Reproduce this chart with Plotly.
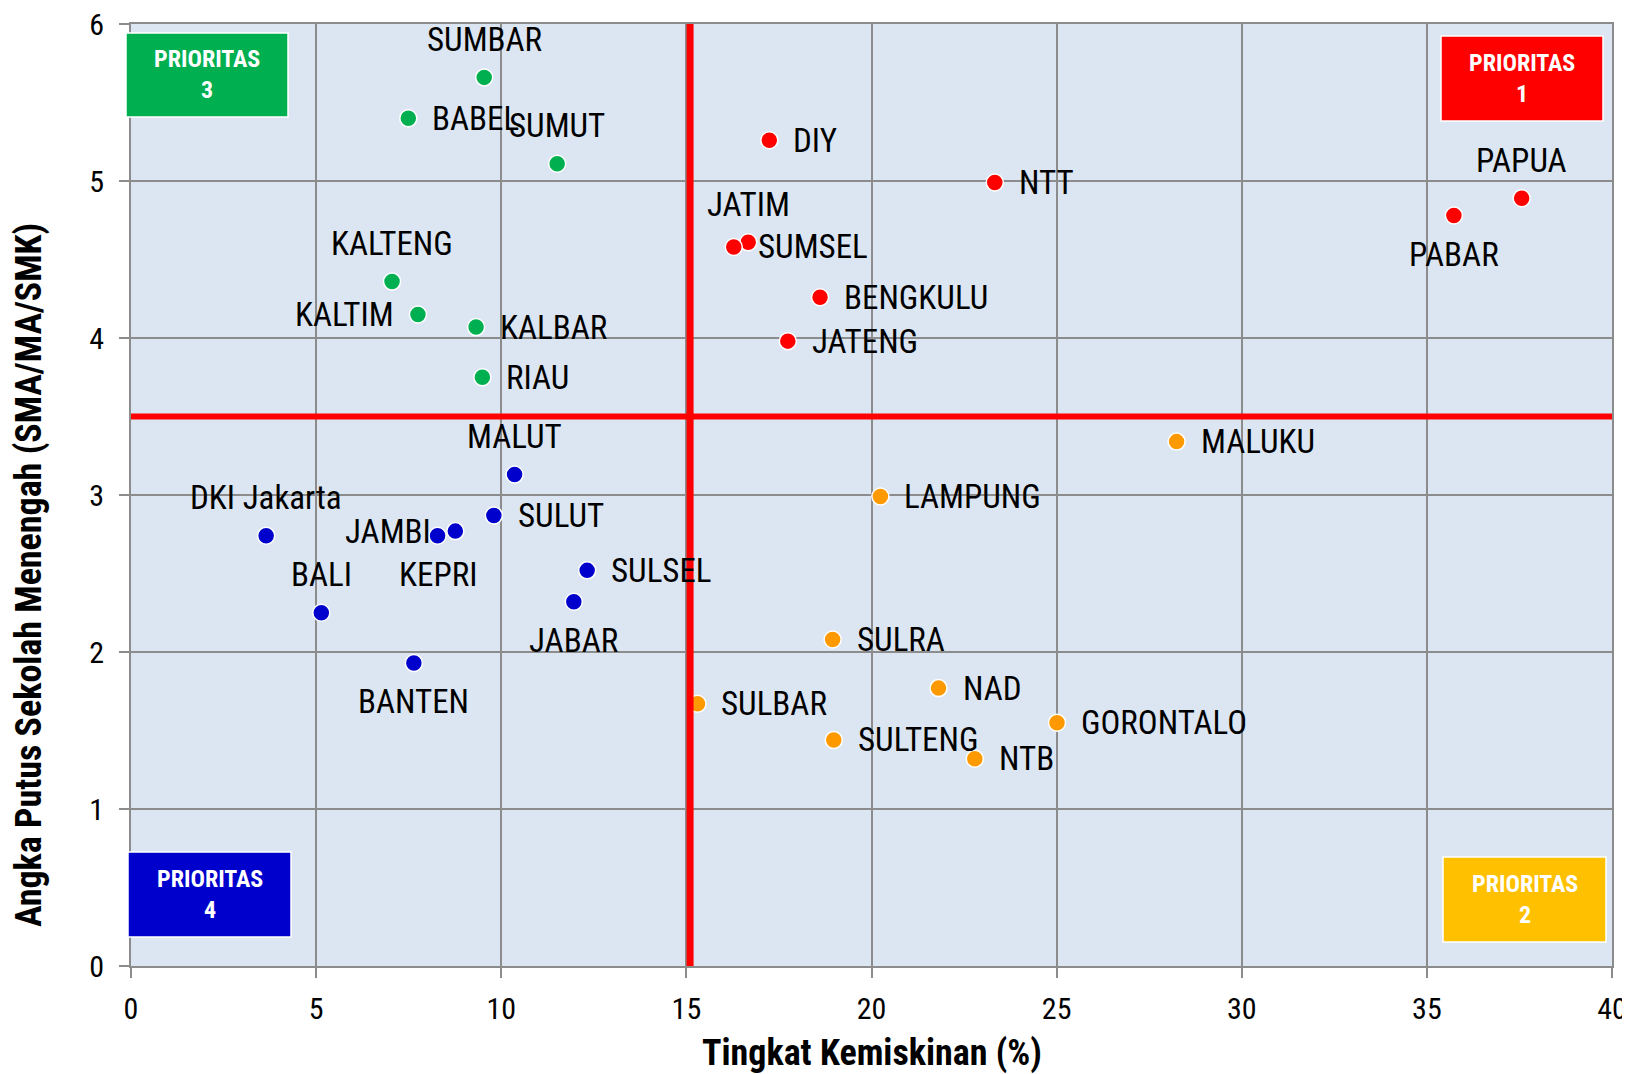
import plotly.graph_objects as go

# ---------------- data ----------------
green_names = ["SUMBAR", "BABEL", "SUMUT", "KALTENG", "KALTIM", "KALBAR", "RIAU"]
green_x = [9.54, 7.49, 11.51, 7.05, 7.75, 9.32, 9.49]
green_y = [5.66, 5.40, 5.11, 4.36, 4.15, 4.07, 3.75]

red_names = ["DIY", "NTT", "JATIM", "SUMSEL", "BENGKULU", "JATENG", "PAPUA", "PABAR"]
red_x = [17.24, 23.33, 16.67, 16.28, 18.61, 17.74, 37.56, 35.73]
red_y = [5.26, 4.99, 4.61, 4.58, 4.26, 3.98, 4.89, 4.78]

orange_names = ["MALUKU", "LAMPUNG", "SULRA", "NAD", "SULBAR", "GORONTALO", "SULTENG", "NTB"]
orange_x = [28.24, 20.24, 18.95, 21.81, 15.30, 25.01, 18.98, 22.79]
orange_y = [3.34, 2.99, 2.08, 1.77, 1.67, 1.55, 1.44, 1.32]

blue_names = ["MALUT", "DKI Jakarta", "JAMBI", "KEPRI", "SULUT", "SULSEL", "JABAR", "BALI", "BANTEN"]
blue_x = [10.36, 3.65, 8.76, 8.28, 9.80, 12.32, 11.96, 5.14, 7.64]
blue_y = [3.13, 2.74, 2.77, 2.74, 2.87, 2.52, 2.32, 2.25, 1.93]

threshold_x = 15.1
threshold_y = 3.5

x_ticks = [0, 5, 10, 15, 20, 25, 30, 35, 40]
y_ticks = [0, 1, 2, 3, 4, 5, 6]

x_title = "Tingkat Kemiskinan (%)"
y_title = "Angka Putus Sekolah Menengah (SMA/MA/SMK)"

# ---------------- styles ----------------
label_pos = {
    "SUMBAR": "t", "BABEL": "r", "SUMUT": "t", "KALTENG": "t", "KALTIM": "l",
    "KALBAR": "r", "RIAU": "r",
    "DIY": "r", "NTT": "r", "JATIM": "t", "SUMSEL": "r", "BENGKULU": "r",
    "JATENG": "r", "PAPUA": "t", "PABAR": "b",
    "MALUKU": "r", "LAMPUNG": "r", "SULRA": "r", "NAD": "r", "SULBAR": "r",
    "GORONTALO": "r", "SULTENG": "r", "NTB": "r",
    "MALUT": "t", "DKI Jakarta": "t", "JAMBI": "l", "KEPRI": "b", "SULUT": "r",
    "SULSEL": "r", "JABAR": "b", "BALI": "t", "BANTEN": "b",
}
FONT = "Liberation Sans Narrow, Arial Narrow, Roboto Condensed, Liberation Sans, Arial, sans-serif"
LABEL_SIZE = 33
TICK_SIZE = 30
GRID = "#8c8c8c"

# the page body adds an 8px margin, so the figure is laid out 8px up/left
OFF = 8
W, H = 1630 - OFF, 1074 - OFF
PL, PT, PW, PH = 131 - OFF, 24 - OFF, 1481, 942

fig = go.Figure()

groups = [
    (green_names, green_x, green_y, "#00B050"),
    (red_names, red_x, red_y, "#FF0000"),
    (orange_names, orange_x, orange_y, "#FF9900"),
    (blue_names, blue_x, blue_y, "#0000CC"),
]

# quadrant divider lines
fig.add_shape(type="line", x0=0, x1=40, y0=threshold_y, y1=threshold_y,
              line=dict(color="#FF0000", width=6), layer="above")
fig.add_shape(type="line", x0=threshold_x, x1=threshold_x, y0=0, y1=6,
              line=dict(color="#FF0000", width=7), layer="above")

annotations = []
for names, xs, ys, col in groups:
    fig.add_trace(go.Scatter(
        x=xs, y=ys, mode="markers", showlegend=False, cliponaxis=False,
        marker=dict(size=17, color=col, line=dict(color="white", width=1.5)),
    ))
    for n, xv, yv in zip(names, xs, ys):
        p = label_pos[n]
        a = dict(x=xv, y=yv, xref="x", yref="y", text=n, showarrow=False,
                 font=dict(family=FONT, size=LABEL_SIZE, color="black"))
        if p == "r":
            a.update(xanchor="left", yanchor="middle", xshift=22)
        elif p == "l":
            a.update(xanchor="right", yanchor="middle", xshift=-22)
        elif p == "t":
            a.update(xanchor="center", yanchor="middle", yshift=38)
        else:
            a.update(xanchor="center", yanchor="middle", yshift=-39)
        annotations.append(a)

# priority boxes (reference pixel boxes converted to paper coordinates)
boxes = [
    ("PRIORITAS<br>3", "#00B050", 126, 33, 288, 117),
    ("PRIORITAS<br>1", "#FF0000", 1441, 36, 1603, 121),
    ("PRIORITAS<br>4", "#0000CC", 128, 852, 291, 937),
    ("PRIORITAS<br>2", "#FFC000", 1443, 857, 1606, 942),
]
for txt, col, x0, y0, x1, y1 in boxes:
    px0 = (x0 - OFF - PL) / PW
    px1 = (x1 - OFF - PL) / PW
    py0 = 1 - (y1 - OFF - PT) / PH
    py1 = 1 - (y0 - OFF - PT) / PH
    fig.add_shape(type="rect", xref="paper", yref="paper", x0=px0, x1=px1, y0=py0, y1=py1,
                  fillcolor=col, line=dict(color="white", width=1.5), layer="above")
    annotations.append(dict(x=(px0 + px1) / 2, y=(py0 + py1) / 2, xref="paper", yref="paper",
                            text="<b>" + txt + "</b>", showarrow=False,
                            font=dict(family=FONT, size=24, color="white"),
                            xanchor="center", yanchor="middle"))

# axis titles
annotations.append(dict(x=0.5, y=1 - (1053 - OFF - PT) / PH, xref="paper", yref="paper",
                        text="<b>" + x_title + "</b>", showarrow=False,
                        font=dict(family=FONT, size=36, color="black"),
                        xanchor="center", yanchor="middle"))
annotations.append(dict(x=(29 - OFF - PL) / PW, y=1 - (575 - OFF - PT) / PH, xref="paper", yref="paper",
                        text="<b>" + y_title + "</b>", showarrow=False, textangle=-90,
                        font=dict(family=FONT, size=36, color="black"),
                        xanchor="center", yanchor="middle"))

fig.update_layout(
    width=W, height=H,
    margin=dict(l=PL, r=W - PL - PW, t=PT, b=H - PT - PH, autoexpand=False),
    paper_bgcolor="white", plot_bgcolor="#DCE6F2",
    annotations=annotations,
    font=dict(family=FONT, size=32, color="black"),
)
fig.update_xaxes(
    range=[0, 40], tickvals=x_ticks, ticktext=[str(v) for v in x_ticks],
    showgrid=True, gridcolor=GRID, gridwidth=2, zeroline=False,
    showline=True, linecolor=GRID, linewidth=2, mirror=True,
    ticks="outside", ticklen=10, tickcolor=GRID, tickwidth=2,
    tickfont=dict(family=FONT, size=TICK_SIZE), ticklabelstandoff=5,
    ticklabeloverflow="allow", automargin=False,
)
fig.update_yaxes(
    range=[0, 6], tickvals=y_ticks, ticktext=[str(v) for v in y_ticks],
    showgrid=True, gridcolor=GRID, gridwidth=2, zeroline=False,
    showline=True, linecolor=GRID, linewidth=2, mirror=True,
    ticks="outside", ticklen=10, tickcolor=GRID, tickwidth=2,
    tickfont=dict(family=FONT, size=TICK_SIZE), ticklabelstandoff=9,
    ticklabeloverflow="allow", automargin=False,
)

fig.write_html("out.html")
